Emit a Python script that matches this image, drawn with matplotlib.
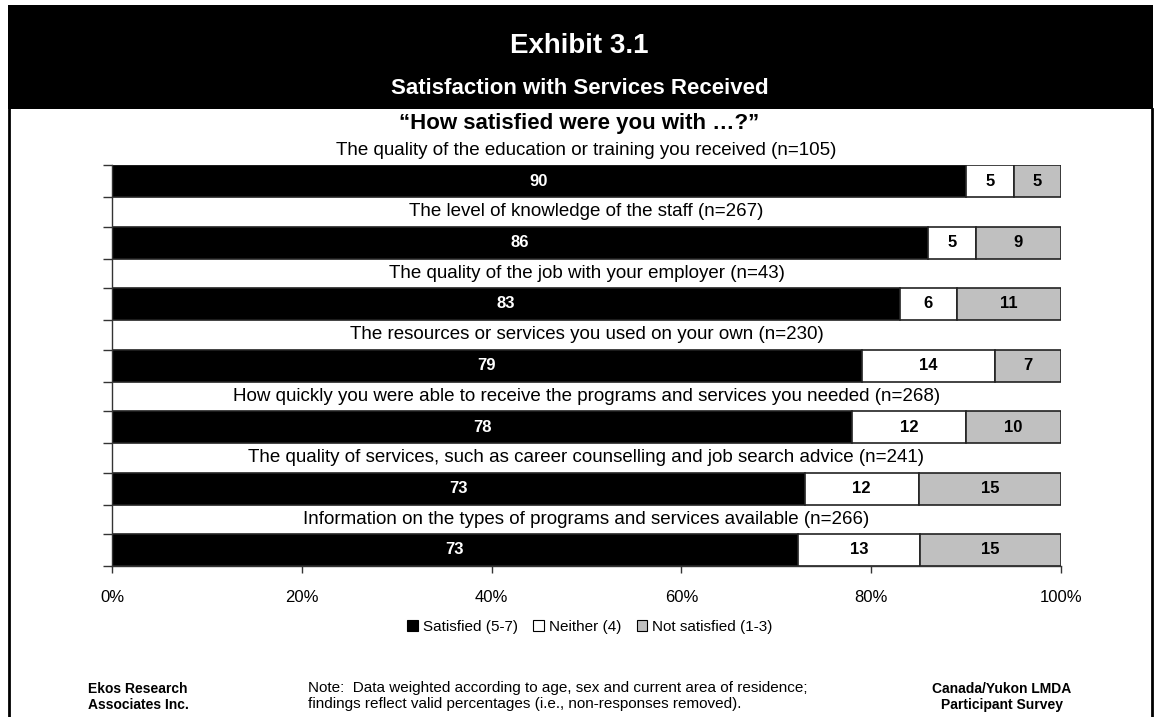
import matplotlib
matplotlib.use('Agg')
import matplotlib.pyplot as plt
import numpy as np
from matplotlib.patches import Patch, Rectangle
from matplotlib.lines import Line2D
from matplotlib.ticker import FuncFormatter

# Datos de la encuesta (porcentajes por pregunta)
categorias = [
    "The quality of the education or training you received (n=105)",
    "The level of knowledge of the staff (n=267)",
    "The quality of the job with your employer (n=43)",
    "The resources or services you used on your own (n=230)",
    "How quickly you were able to receive the programs and services you needed (n=268)",
    "The quality of services, such as career counselling and job search advice (n=241)",
    "Information on the types of programs and services available (n=266)",
]
satisfechos = [90, 86, 83, 79, 78, 73, 73]
neutros = [5, 5, 6, 14, 12, 12, 13]
insatisfechos = [5, 9, 11, 7, 10, 15, 15]

series_nombres = ["Satisfied (5-7)", "Neither (4)", "Not satisfied (1-3)"]
series_colores = ["#000000", "#ffffff", "#c0c0c0"]
texto_colores = ["white", "black", "black"]
xticks = [0, 0.2, 0.4, 0.6, 0.8, 1.0]

plt.rcParams['font.family'] = ['Liberation Sans', 'DejaVu Sans']

W, H = 1159, 717
fig = plt.figure(figsize=(W / 100, H / 100), dpi=100)


def fx(px):
    return px / W


def fy(py):
    return 1 - py / H


# Banda negra del encabezado y marco lateral
fig.add_artist(Rectangle((fx(8), fy(109)), fx(1153) - fx(8), fy(5) - fy(109),
                         transform=fig.transFigure, facecolor='black', edgecolor='none'))
for xl in (9.3, 1151.7):
    fig.add_artist(Line2D([fx(xl), fx(xl)], [fy(109), 0], transform=fig.transFigure,
                          color='black', linewidth=2.0))

fig.text(0.5, fy(46), "Exhibit 3.1", color='white', fontsize=20, fontweight='bold',
         ha='center', va='center')
fig.text(0.5, fy(89), "Satisfaction with Services Received", color='white', fontsize=16,
         fontweight='bold', ha='center', va='center')
fig.text(0.5, fy(124), "\u201cHow satisfied were you with \u2026?\u201d", color='black',
         fontsize=16, fontweight='bold', ha='center', va='center')

ax = fig.add_axes([fx(112), fy(566), fx(1061) - fx(112), fy(165) - fy(566)])

datos = np.array([satisfechos, neutros, insatisfechos], dtype=float)
totales = datos.sum(axis=0)
y = np.arange(len(categorias))
alto = 32 / 61.5

izq = np.zeros(len(categorias))
for k in range(3):
    anchos = datos[k] / totales
    ax.barh(y, anchos, left=izq, height=alto, color=series_colores[k],
            edgecolor='#222222', linewidth=1.2, zorder=2)
    for i in range(len(categorias)):
        ax.text(izq[i] + anchos[i] / 2, y[i], f"{int(datos[k][i])}", color=texto_colores[k],
                fontsize=12, fontweight='bold', ha='center', va='center', zorder=3)
    izq += anchos

# Etiquetas de cada pregunta, centradas sobre su barra
for i, cat in enumerate(categorias):
    ax.text(0.5, y[i] - 0.5, cat, fontsize=13.5, ha='center', va='center',
            clip_on=False, zorder=3)

ax.set_xlim(0, 1)
ax.set_ylim(len(categorias) - 1 + alto / 2, -alto / 2)

bordes = np.sort(np.concatenate([y - alto / 2, y + alto / 2]))
ax.set_yticks(bordes)
ax.set_yticklabels([])
ax.tick_params(axis='y', direction='out', length=6.5, width=1, color='#333333')

ax.set_xticks(xticks)
ax.xaxis.set_major_formatter(FuncFormatter(lambda v, p: f"{int(round(v * 100))}%"))
ax.tick_params(axis='x', direction='out', length=5, width=1, color='#333333',
               labelsize=12, pad=12)

for lado in ('top', 'right'):
    ax.spines[lado].set_visible(False)
for lado in ('left', 'bottom'):
    ax.spines[lado].set_color('#333333')
    ax.spines[lado].set_linewidth(1)

manijas = [Patch(facecolor=c, edgecolor='black', linewidth=0.8) for c in series_colores]
fig.legend(manijas, series_nombres, loc='center', bbox_to_anchor=(fx(590), fy(627)),
           ncol=3, frameon=False, fontsize=11, handlelength=0.7, handleheight=0.7,
           handletextpad=0.33, columnspacing=1.0, borderpad=0)

# Pie de página
fig.text(fx(138), fy(697), "Ekos Research\nAssociates Inc.", fontsize=10, fontweight='bold',
         ha='center', va='center', linespacing=1.25)
fig.text(fx(308), fy(696), "Note:  Data weighted according to age, sex and current area of residence;\n"
         "findings reflect valid percentages (i.e., non-responses removed).",
         fontsize=11, ha='left', va='center', linespacing=1.1)
fig.text(fx(1002), fy(697), "Canada/Yukon LMDA\nParticipant Survey", fontsize=10,
         fontweight='bold', ha='center', va='center', linespacing=1.25)

fig.savefig('out.png', dpi=100)
plt.close(fig)
